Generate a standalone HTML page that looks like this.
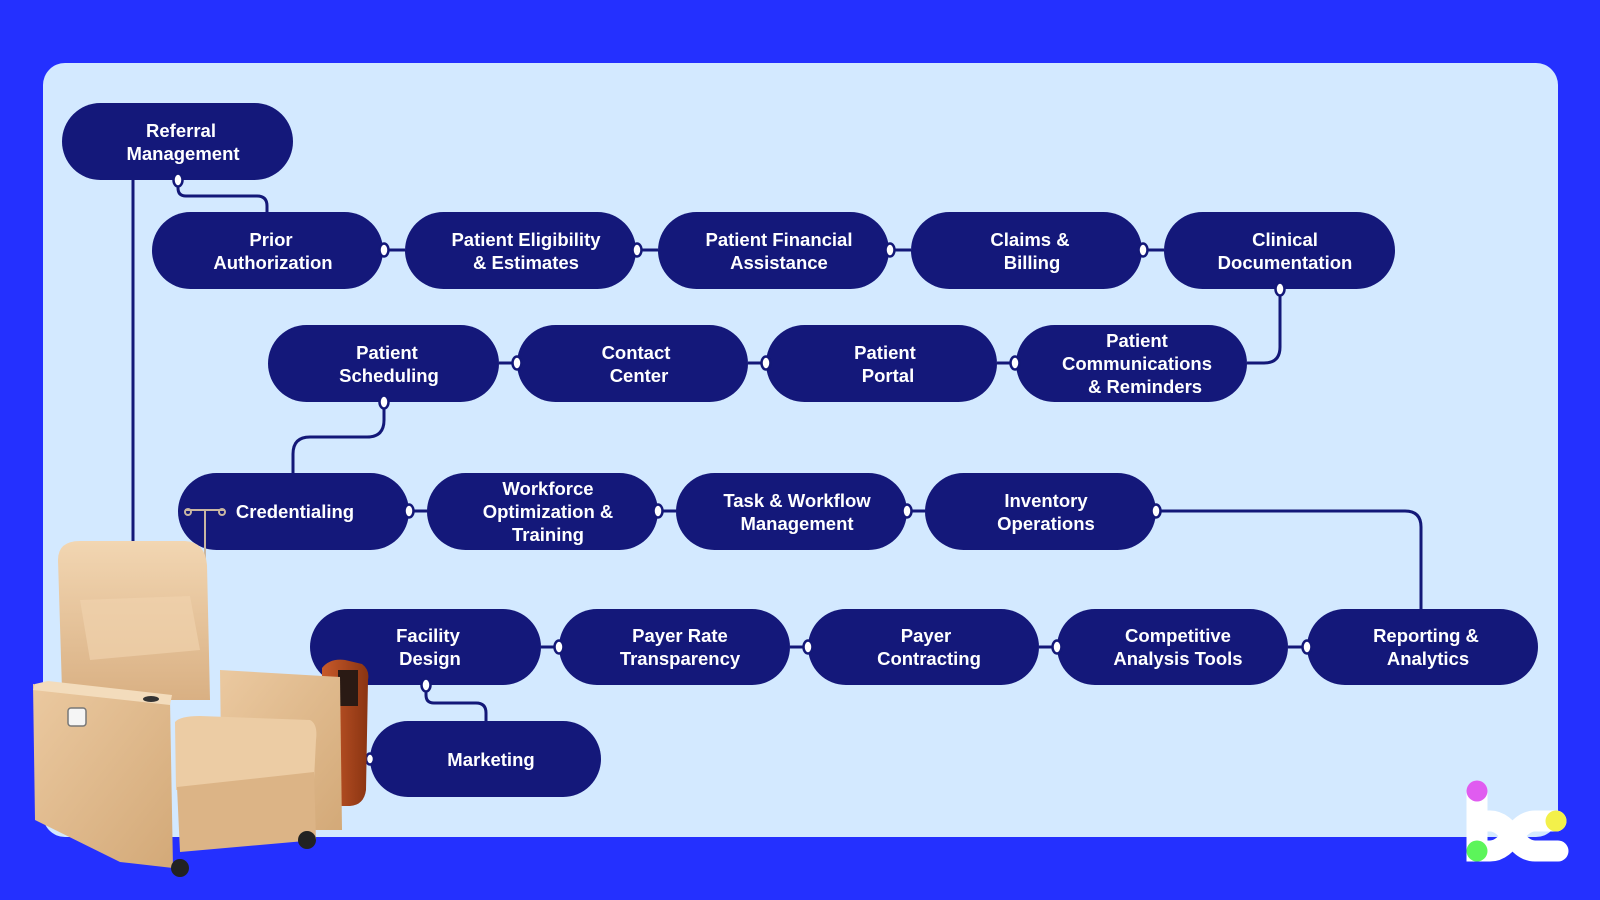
<!DOCTYPE html>
<html><head><meta charset="utf-8"><style>
html,body{margin:0;padding:0;width:1600px;height:900px;overflow:hidden;background:#2430ff}
svg{display:block}
text{font-family:"Liberation Sans",sans-serif;font-weight:bold;font-size:18.5px;fill:#fff;text-anchor:middle}
</style></head><body>
<svg width="1600" height="900" viewBox="0 0 1600 900" xmlns="http://www.w3.org/2000/svg">
<defs>
<linearGradient id="lea" x1="0" y1="0" x2="1" y2="1"><stop offset="0" stop-color="#ebc9a0"/><stop offset="1" stop-color="#d3a978"/></linearGradient>
<linearGradient id="lea2" x1="0" y1="0" x2="0" y2="1"><stop offset="0" stop-color="#f2d6b2"/><stop offset="1" stop-color="#d9b083"/></linearGradient>
<linearGradient id="wood" x1="0" y1="0" x2="1" y2="0"><stop offset="0" stop-color="#c85a2a"/><stop offset="1" stop-color="#8a3412"/></linearGradient>
</defs>
<rect width="1600" height="900" fill="#2430ff"/>
<rect x="43" y="63" width="1515" height="774" rx="22" fill="#d3e9ff"/>
<g fill="none" stroke="#131878" stroke-width="3">
<path d="M133 180 V545"/>
<path d="M178 180 V188 Q178 196 186 196 H257 Q267 196 267 206 V213"/>
<path d="M383 250 H405 M636 250 H658 M889 250 H911 M1142 250 H1164"/>
<path d="M1280 289 V347 Q1280 363 1264 363 H1247"/>
<path d="M499 363 H517 M748 363 H766 M997 363 H1016"/>
<path d="M384 402 V420 Q384 437 367 437 H310 Q293 437 293 454 V474"/>
<path d="M408 511 H427 M657 511 H676 M906 511 H925"/>
<path d="M1155 511 H1405 Q1421 511 1421 527 V610"/>
<path d="M541 647 H559 M790 647 H808 M1039 647 H1057 M1288 647 H1307"/>
<path d="M426 685 V695 Q426 703 434 703 H476 Q486 703 486 713 V722"/>
<path d="M360 759 H370"/>
</g>
<g fill="#14187a">
<rect x="62" y="103" width="231" height="77" rx="38.5"/>
<rect x="152" y="212" width="231" height="77" rx="38.5"/>
<rect x="405" y="212" width="231" height="77" rx="38.5"/>
<rect x="658" y="212" width="231" height="77" rx="38.5"/>
<rect x="911" y="212" width="231" height="77" rx="38.5"/>
<rect x="1164" y="212" width="231" height="77" rx="38.5"/>
<rect x="268" y="325" width="231" height="77" rx="38.5"/>
<rect x="517" y="325" width="231" height="77" rx="38.5"/>
<rect x="766" y="325" width="231" height="77" rx="38.5"/>
<rect x="1016" y="325" width="231" height="77" rx="38.5"/>
<rect x="178" y="473" width="231" height="77" rx="38.5"/>
<rect x="427" y="473" width="231" height="77" rx="38.5"/>
<rect x="676" y="473" width="231" height="77" rx="38.5"/>
<rect x="925" y="473" width="231" height="77" rx="38.5"/>
<rect x="310" y="609" width="231" height="76" rx="38"/>
<rect x="559" y="609" width="231" height="76" rx="38"/>
<rect x="808" y="609" width="231" height="76" rx="38"/>
<rect x="1057" y="609" width="231" height="76" rx="38"/>
<rect x="1307" y="609" width="231" height="76" rx="38"/>
<rect x="370" y="721" width="231" height="76" rx="38"/>
</g>
<g fill="#fff" stroke="#131878" stroke-width="2.5">
<ellipse cx="178" cy="180" rx="4.5" ry="6.5"/>
<ellipse cx="384" cy="250" rx="4.5" ry="6.5"/><ellipse cx="637" cy="250" rx="4.5" ry="6.5"/>
<ellipse cx="890" cy="250" rx="4.5" ry="6.5"/><ellipse cx="1143" cy="250" rx="4.5" ry="6.5"/>
<ellipse cx="1280" cy="289" rx="4.5" ry="6.5"/>
<ellipse cx="517" cy="363" rx="4.5" ry="6.5"/><ellipse cx="766" cy="363" rx="4.5" ry="6.5"/>
<ellipse cx="1015" cy="363" rx="4.5" ry="6.5"/>
<ellipse cx="384" cy="402" rx="4.5" ry="6.5"/>
<ellipse cx="409" cy="511" rx="4.5" ry="6.5"/><ellipse cx="658" cy="511" rx="4.5" ry="6.5"/>
<ellipse cx="907" cy="511" rx="4.5" ry="6.5"/><ellipse cx="1156" cy="511" rx="4.5" ry="6.5"/>
<ellipse cx="559" cy="647" rx="4.5" ry="6.5"/><ellipse cx="808" cy="647" rx="4.5" ry="6.5"/>
<ellipse cx="1057" cy="647" rx="4.5" ry="6.5"/><ellipse cx="1307" cy="647" rx="4.5" ry="6.5"/>
<ellipse cx="426" cy="685" rx="4.5" ry="6.5"/>
<ellipse cx="370" cy="759" rx="4" ry="5.5"/>
</g>
<g>
<text x="181" y="137">Referral</text><text x="183" y="160">Management</text>
<text x="271" y="246">Prior</text><text x="273" y="269">Authorization</text>
<text x="526" y="246">Patient Eligibility</text><text x="526" y="269">&amp; Estimates</text>
<text x="779" y="246">Patient Financial</text><text x="779" y="269">Assistance</text>
<text x="1030" y="246">Claims &amp;</text><text x="1032" y="269">Billing</text>
<text x="1285" y="246">Clinical</text><text x="1285" y="269">Documentation</text>
<text x="387" y="359">Patient</text><text x="389" y="382">Scheduling</text>
<text x="636" y="359">Contact</text><text x="639" y="382">Center</text>
<text x="885" y="359">Patient</text><text x="888" y="382">Portal</text>
<text x="1137" y="347">Patient</text><text x="1137" y="370">Communications</text><text x="1145" y="393">&amp; Reminders</text>
<text x="295" y="518">Credentialing</text>
<text x="548" y="495">Workforce</text><text x="548" y="518">Optimization &amp;</text><text x="548" y="541">Training</text>
<text x="797" y="507">Task &amp; Workflow</text><text x="797" y="530">Management</text>
<text x="1046" y="507">Inventory</text><text x="1046" y="530">Operations</text>
<text x="428" y="642">Facility</text><text x="430" y="665">Design</text>
<text x="680" y="642">Payer Rate</text><text x="680" y="665">Transparency</text>
<text x="926" y="642">Payer</text><text x="929" y="665">Contracting</text>
<text x="1178" y="642">Competitive</text><text x="1178" y="665">Analysis Tools</text>
<text x="1426" y="642">Reporting &amp;</text><text x="1428" y="665">Analytics</text>
<text x="491" y="766">Marketing</text>
</g>
<!-- IV pole -->
<g stroke="#c9b7a2" stroke-width="2" fill="none">
<path d="M185 510 H225"/><path d="M205 510 V608"/>
<circle cx="188" cy="512" r="3"/><circle cx="222" cy="512" r="3"/>
</g>
<!-- chair -->
<path d="M322 668 Q330 658 345 660 L362 664 Q370 670 368 680 L366 790 Q364 805 350 806 L330 806 L322 790Z" fill="url(#wood)"/>
<rect x="338" y="670" width="20" height="36" fill="#2a1a14"/>
<path d="M58 560 Q58 541 80 541 L185 541 Q205 542 207 565 L210 700 L80 700 L62 690Z" fill="url(#lea2)"/>
<path d="M80 600 L190 596 L200 650 L90 660Z" fill="#efd2ad" opacity=".7"/>
<path d="M220 670 L340 677 L342 830 L300 830 L222 820Z" fill="url(#lea)"/>
<path d="M175 722 Q180 716 200 716 L310 720 Q318 724 316 740 L314 780 L176 790Z" fill="#eccca4"/>
<path d="M177 787 L314 772 L316 840 L180 852Z" fill="#dcb486"/>
<path d="M33 684 L170 700 L173 868 L120 862 L35 820Z" fill="url(#lea)"/>
<path d="M35 684 L48 681 L172 695 L170 705 L33 690Z" fill="#f3dcbc"/>
<rect x="68" y="708" width="18" height="18" rx="3" fill="#f5f5f5" stroke="#777" stroke-width="1.5"/>
<ellipse cx="151" cy="699" rx="8" ry="3" fill="#333"/>
<circle cx="180" cy="868" r="9" fill="#222"/>
<circle cx="307" cy="840" r="9" fill="#222"/>
<!-- logo -->
<g fill="none" stroke="#fff" stroke-width="21" stroke-linecap="round">
<path d="M1477 791 V851 H1490 C1510 851 1515 821 1535 821 H1556"/>
<path d="M1477 821 H1490 C1510 821 1515 851 1535 851 H1558"/>
</g>
<circle cx="1477" cy="791" r="10.5" fill="#e05cf0"/>
<circle cx="1556" cy="821" r="10.5" fill="#f3f04a"/>
<circle cx="1477" cy="851" r="10.5" fill="#5cf55a"/>
</svg>
</body></html>
